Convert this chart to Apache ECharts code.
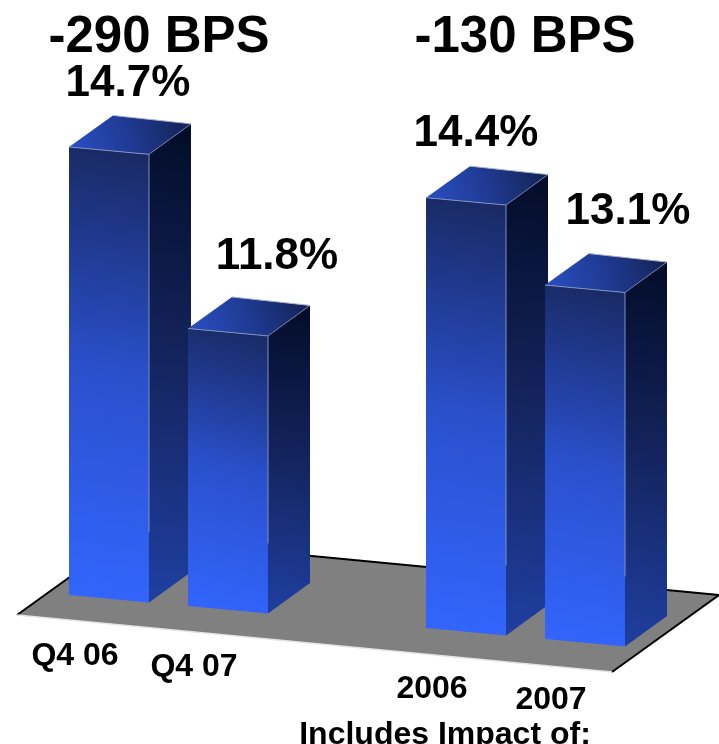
<!DOCTYPE html>
<html>
<head>
<meta charset="utf-8">
<style>html,body{margin:0;padding:0;background:#fff}#c{width:719px;height:744px}</style>
<script src="https://cdn.jsdelivr.net/npm/echarts@6/dist/echarts.min.js"></script>
</head>
<body>
<div id="c"></div>
<script>
// ---- data ----
var categories = ['Q4 06', 'Q4 07', '', '2006', '2007'];
var values = [14.7, 11.8, null, 14.4, 13.1];
var valueLabels = ['14.7%', '11.8%', '', '14.4%', '13.1%'];
var changeLabels = ['-290 BPS', '-130 BPS'];
var footnote = 'Includes Impact of:';

// ---- layout / style ----
var FONT = '"Liberation Sans", Arial, sans-serif';
var BASE = 7.08;             // value at the hidden axis floor
var SLANT = 0.0926;          // perspective slope of the floor, per px of x
var DEPTH = [42, -30.5];     // 3D depth vector
var BAR_RATIO = 80 / 119;
var LABEL_SHIFT = [[59, -63], [89, -72], null, [50, -64], [83, -73]];
var TICK_SHIFT = [6, 61];
var FLOOR = [[-92, 20], [503, 77], [610, 0], [15, -57]]; // relative to first band's base

function grad(x, y, x2, y2, stops) {
  return {type: 'linear', x: x, y: y, x2: x2, y2: y2,
    colorStops: stops.map(function (s) { return {offset: s[0], color: s[1]}; })};
}
var frontFill = grad(0, 1, 1, 0, [[0, '#3366ff'], [0.5, '#2a50cc'], [1, '#18285f']]);
var sideFill = grad(0, 1, 1, 0, [[0, '#1f3fa0'], [0.5, '#14245e'], [1, '#030c28']]);
var topFill = grad(0, 1, 1, 0, [[0, '#2b50c6'], [0.5, '#1f3a92'], [1, '#14214f']]);

function poly(points, fill) {
  return {type: 'polygon', shape: {points: points}, style: {fill: fill, stroke: null}};
}
function edge(a, b, color, w) {
  return {type: 'line', shape: {x1: a[0], y1: a[1], x2: b[0], y2: b[1]},
    style: {stroke: color, lineWidth: w || 1, fill: null}};
}
function txt(text, x, y, size) {
  return {type: 'text', x: x, y: y, silent: true, style: {
    text: text, fill: '#000', align: 'center', verticalAlign: 'middle',
    font: 'bold ' + size + 'px ' + FONT}};
}

function renderFloor(params, api) {
  var a = api.coord([0, BASE]);
  var p = FLOOR.map(function (o) { return [a[0] + o[0], a[1] + o[1]]; });
  return {type: 'group', children: [
    poly(p, '#808080'),
    edge(p[0], p[3], '#000', 2),
    edge(p[3], p[2], '#000', 2),
    edge(p[2], p[1], '#000', 2),
    {type: 'line', shape: {x1: p[0][0], y1: p[0][1], x2: p[1][0], y2: p[1][1]},
      style: {stroke: '#e4e4e4', lineWidth: 1.5, fill: null}}
  ]};
}

function renderBar(params, api) {
  var i = api.value(0), v = api.value(1);
  if (isNaN(v)) return {type: 'group', children: []};
  var w = api.size([1, 0])[0] * BAR_RATIO;
  var first = api.coord([0, BASE]);
  var bandW = api.size([1, 0])[0];
  var x0 = first[0] - bandW * BAR_RATIO / 2;
  var c = api.coord([i, v]), b = api.coord([i, BASE]);
  var xl = c[0] - w / 2, xr = c[0] + w / 2;
  var off = function (x) { return (x - x0) * SLANT; };
  var tl = [xl, c[1] + off(xl)], tr = [xr, c[1] + off(xr)];
  var bl = [xl, b[1] + off(xl)], br = [xr, b[1] + off(xr)];
  var trb = [tr[0] + DEPTH[0], tr[1] + DEPTH[1]];
  var tlb = [tl[0] + DEPTH[0] + 2, tl[1] + DEPTH[1] - 1];
  var brb = [br[0] + DEPTH[0], br[1] + DEPTH[1]];
  var s = LABEL_SHIFT[i];
  return {type: 'group', children: [
    poly([tl, tr, br, bl], frontFill),
    poly([tr, trb, brb, br], sideFill),
    poly([tl, tlb, trb, tr], topFill),
    edge(tl, tr, '#7f8fc0', 1),
    edge(tr, trb, '#6a78a8', 1),
    edge(tr, [br[0], br[1] - 70], '#7f8fc0', 1),
    edge(tlb, trb, '#aab4d0', 1),
    txt(valueLabels[i], tl[0] + s[0], tl[1] + s[1], 44),
    txt(categories[i], bl[0] + TICK_SHIFT[0], bl[1] + TICK_SHIFT[1], 32)
  ]};
}

var chart = echarts.init(document.getElementById('c'), null, {renderer: 'canvas'});
chart.setOption({
  animation: false,
  backgroundColor: '#fff',
  grid: {left: 49.5, width: 595, top: 124.6, height: 470.4},
  xAxis: {type: 'category', data: categories, show: false},
  yAxis: {type: 'value', min: BASE, max: BASE + 8, show: false},
  title: [
    {text: changeLabels[0], left: 154, top: 33, textAlign: 'center', textVerticalAlign: 'middle',
      textStyle: {fontFamily: FONT, fontWeight: 'bold', fontSize: 51, color: '#000'}},
    {text: changeLabels[1], left: 520, top: 33, textAlign: 'center', textVerticalAlign: 'middle',
      textStyle: {fontFamily: FONT, fontWeight: 'bold', fontSize: 51, color: '#000'}},
    {text: footnote, left: 440, top: 730, textAlign: 'center', textVerticalAlign: 'middle',
      textStyle: {fontFamily: FONT, fontWeight: 'bold', fontSize: 32, color: '#000'}}
  ],
  series: [
    {type: 'custom', renderItem: renderFloor, data: [[0, BASE]], z: 1, silent: true},
    {type: 'custom', renderItem: renderBar, z: 2, silent: true,
      encode: {x: 0, y: 1},
      data: values.map(function (v, i) { return [i, v === null ? '-' : v]; })}
  ]
});
</script>
</body>
</html>
